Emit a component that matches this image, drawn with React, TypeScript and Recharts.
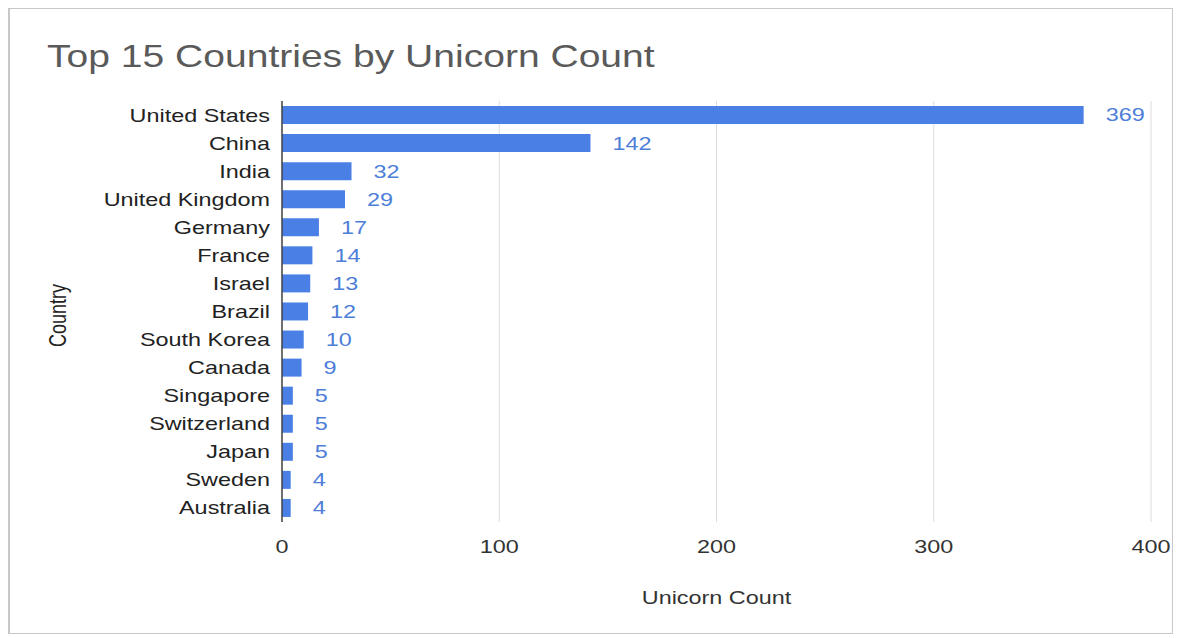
import { BarChart, Bar, XAxis, YAxis, CartesianGrid, LabelList } from 'recharts'

const COUNTRIES = [
  'United States', 'China', 'India', 'United Kingdom', 'Germany',
  'France', 'Israel', 'Brazil', 'South Korea', 'Canada',
  'Singapore', 'Switzerland', 'Japan', 'Sweden', 'Australia',
]
const UNICORNS = [369, 142, 32, 29, 17, 14, 13, 12, 10, 9, 5, 5, 5, 4, 4]
const X_TICKS = [0, 100, 200, 300, 400]

const FONT = '"Liberation Sans", Arial, sans-serif'
const BAR_BLUE = '#4a80e6'
const LABEL_BLUE = '#4d7ed8'
// the source screenshot is stretched sideways, so the text is too
const STRETCH = 1.3

// y-axis country names, right-aligned against the axis
const CountryTick = (props: any) => {
  const { x, y, payload } = props
  return (
    <text
      transform={`translate(${x},${y}) scale(${STRETCH},1)`}
      textAnchor="end"
      dominantBaseline="central"
      fontSize={18}
      fill="#222"
    >
      {payload.value}
    </text>
  )
}

const CountTick = (props: any) => {
  const { x, y, payload } = props
  return (
    <text
      transform={`translate(${x},${y}) scale(${STRETCH},1)`}
      textAnchor="middle"
      dy={19}
      fontSize={18}
      fill="#333"
    >
      {payload.value}
    </text>
  )
}

const ValueLabel = (props: any) => {
  const { x, y, width, height, value } = props
  return (
    <text
      transform={`translate(${Number(x) + Number(width) + 22},${Number(y) + Number(height) / 2}) scale(${STRETCH},1)`}
      textAnchor="start"
      dominantBaseline="central"
      fontSize={18}
      fill={LABEL_BLUE}
    >
      {value}
    </text>
  )
}

const XLabel = (props: any) => {
  const { viewBox } = props
  const cx = viewBox.x + viewBox.width / 2
  const cy = viewBox.y + viewBox.height + 2
  return (
    <text
      transform={`translate(${cx},${cy}) scale(${STRETCH},1)`}
      textAnchor="middle"
      fontSize={18}
      fill="#333"
    >
      Unicorn Count
    </text>
  )
}

const YLabel = (props: any) => {
  const { viewBox } = props
  const cx = viewBox.x + 48
  const cy = viewBox.y + viewBox.height / 2 + 4
  return (
    <text
      transform={`translate(${cx},${cy}) rotate(-90) scale(1,${STRETCH})`}
      textAnchor="middle"
      dominantBaseline="central"
      fontSize={18}
      fill="#222"
    >
      Country
    </text>
  )
}

export default function App() {
  const data = COUNTRIES.map((c, i) => ({ country: c, count: UNICORNS[i] }))

  return (
    <div
      style={{
        position: 'relative',
        width: 1162,
        height: 624,
        border: '1px solid #c8c8c8',
        borderLeftWidth: 2,
        fontFamily: FONT,
        background: '#fff',
      }}
    >
      <div
        style={{
          position: 'absolute',
          left: 37,
          top: 29,
          fontSize: 32,
          color: '#5a5a5a',
          whiteSpace: 'nowrap',
          transform: 'scaleX(1.22)',
          transformOrigin: 'left top',
        }}
      >
        Top 15 Countries by Unicorn Count
      </div>
      <BarChart
        width={1161}
        height={624}
        data={data}
        layout="vertical"
        margin={{ top: 92, right: 20, bottom: 31, left: 0 }}
        style={{ fontFamily: FONT }}
      >
        <CartesianGrid horizontal={false} stroke="#dcdcdc" />
        <XAxis
          type="number"
          domain={[0, 400]}
          ticks={X_TICKS}
          height={80}
          axisLine={false}
          tickLine={false}
          tickSize={0}
          tickMargin={12}
          tick={CountTick}
          label={<XLabel />}
        />
        <YAxis
          type="category"
          dataKey="country"
          width={272}
          interval={0}
          axisLine={{ stroke: '#444', strokeWidth: 1.5 }}
          tickLine={false}
          tickSize={0}
          tickMargin={12}
          tick={CountryTick}
          label={<YLabel />}
        />
        <Bar dataKey="count" fill={BAR_BLUE} barSize={18} isAnimationActive={false}>
          <LabelList dataKey="count" content={<ValueLabel />} />
        </Bar>
      </BarChart>
    </div>
  )
}
